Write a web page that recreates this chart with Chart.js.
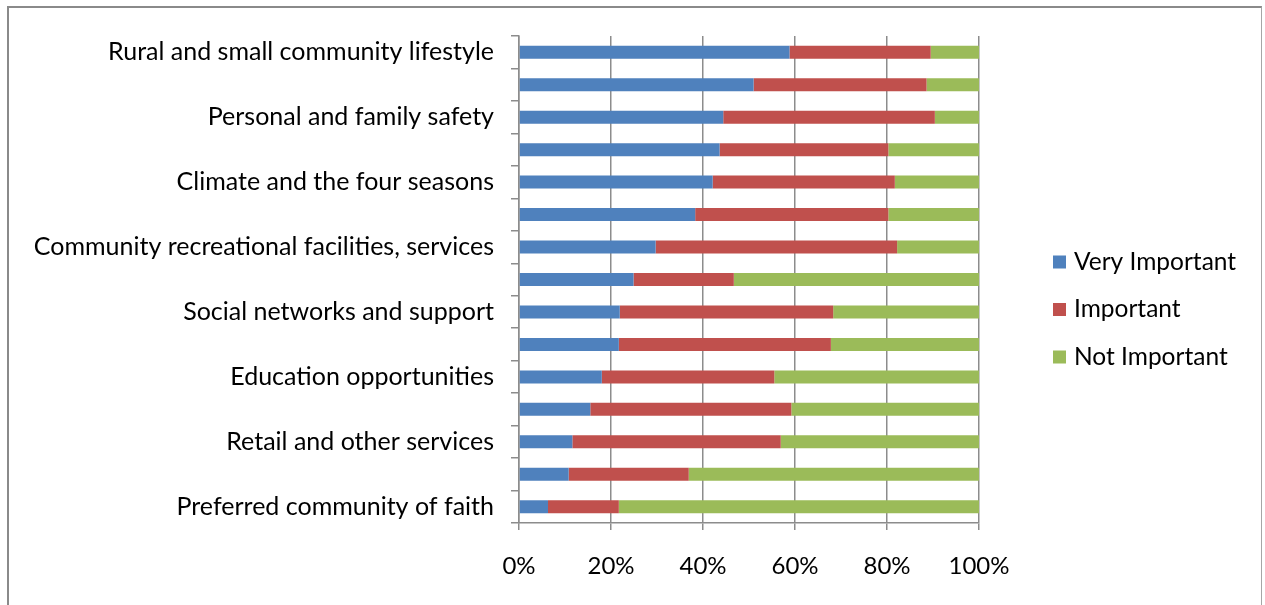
<!DOCTYPE html>
<html>
<head>
<meta charset="utf-8">
<script src="https://cdn.jsdelivr.net/npm/chart.js@4/dist/chart.umd.min.js"></script>
<style>
  html, body { margin: 0; padding: 0; background: #fff; overflow: hidden; }
  #wrap { position: absolute; left: 0; top: 0; width: 1265px; height: 605px; }
  #frame { position: absolute; left: 7px; top: 6px; width: 1255px; height: 620px;
           border-top: 2px solid #8a8a8a; border-left: 2px solid #8a8a8a; border-right: 1px solid #a6a6a6;
           box-sizing: border-box; pointer-events: none; }
</style>
</head>
<body>
<div id="wrap"><canvas id="c" width="1265" height="605"></canvas><div id="frame"></div></div>
<script>
const categories = [
  "Rural and small community lifestyle", "",
  "Personal and family safety", "",
  "Climate and the four seasons", "",
  "Community recreational facilities, services", "",
  "Social networks and support", "",
  "Education opportunities", "",
  "Retail and other services", "",
  "Preferred community of faith"
];
const seriesNames = ["Very Important", "Important", "Not Important"];
const veryImportant = [58.8, 51.0, 44.4, 43.6, 42.1, 38.3, 29.7, 24.9, 21.9, 21.7, 18.0, 15.5, 11.6, 10.8, 6.3];
const important     = [30.7, 37.6, 46.0, 36.7, 39.6, 42.0, 52.5, 21.8, 46.4, 46.1, 37.5, 43.7, 45.3, 26.1, 15.4];
const notImportant  = [10.5, 11.4, 9.6, 19.7, 18.3, 19.7, 17.8, 53.3, 31.7, 32.2, 44.5, 40.8, 43.1, 63.1, 78.3];
const xTicks = ["0%", "20%", "40%", "60%", "80%", "100%"];

const colors = ["#4F81BD", "#C0504D", "#9BBB59"];
const FONT = "Lato";
const FSIZE = 24;

const legendPlugin = {
  id: 'sideLegend',
  afterDraw(chart) {
    const ctx = chart.ctx;
    ctx.save();
    ctx.font = "24.5px " + FONT;
    ctx.textBaseline = "middle";
    ctx.textAlign = "left";
    chart.data.datasets.forEach((ds, i) => {
      const cy = 262 + i * 47.5;
      ctx.fillStyle = ds.backgroundColor;
      ctx.fillRect(1053, cy - 6.5, 13, 13);
      ctx.fillStyle = "#000";
      ctx.fillText(ds.label, 1074, cy);
    });
    ctx.restore();
  }
};

new Chart(document.getElementById('c'), {
  type: 'bar',
  data: {
    labels: categories,
    datasets: [
      { label: seriesNames[0], data: veryImportant, backgroundColor: colors[0] },
      { label: seriesNames[1], data: important, backgroundColor: colors[1] },
      { label: seriesNames[2], data: notImportant, backgroundColor: colors[2] }
    ]
  },
  options: {
    indexAxis: 'y',
    responsive: false,
    animation: false,
    events: [],
    layout: { padding: { top: 36, right: 286, left: 0, bottom: 0 } },
    datasets: { bar: { categoryPercentage: 1, barPercentage: 0.4, borderWidth: 0 } },
    scales: {
      x: {
        stacked: true,
        min: 0, max: 100,
        afterFit: (s) => { s.height = 605 - 523; },
        ticks: { stepSize: 20, color: "#000", font: { family: FONT, size: FSIZE }, padding: 22,
                 maxRotation: 0, callback: (v, i) => xTicks[i] },
        grid: { color: "#8c8c8c", lineWidth: 1.5, drawTicks: true, tickLength: 7 },
        border: { color: "#8c8c8c", width: 1.5 }
      },
      y: {
        stacked: true,
        afterFit: (s) => { s.width = 519; },
        ticks: { autoSkip: false, color: "#000", font: { family: FONT, size: 25 }, padding: 17 },
        grid: { drawOnChartArea: false, drawTicks: true, tickLength: 8, color: "#8c8c8c", lineWidth: 1.5, offset: true },
        border: { color: "#8c8c8c", width: 1.5 }
      }
    },
    plugins: { legend: { display: false }, tooltip: { enabled: false } }
  },
  plugins: [legendPlugin]
});
</script>
</body>
</html>
